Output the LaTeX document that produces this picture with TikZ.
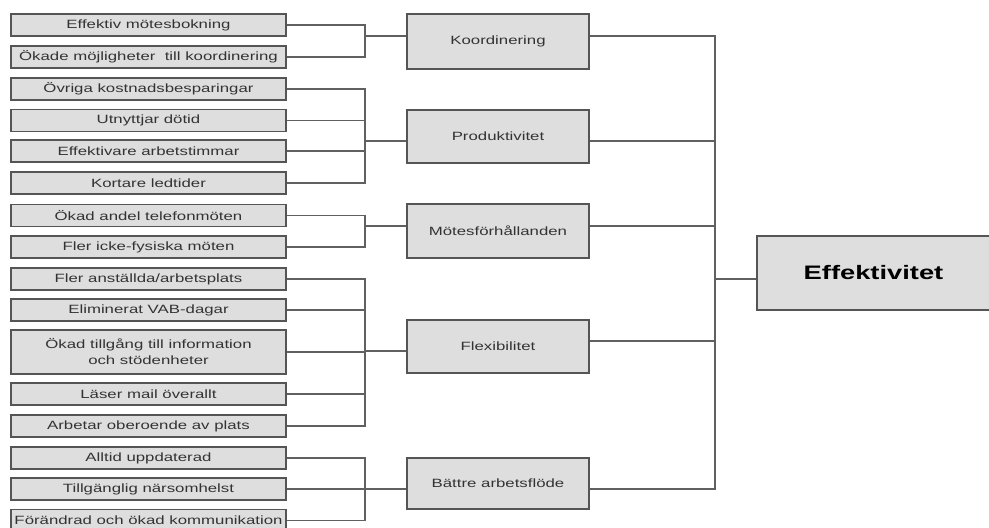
\documentclass[tikz,border=0pt]{standalone}
\usepackage{fontspec}
\setmainfont{Liberation Sans}[FakeStretch=1.4]
\usetikzlibrary{calc}
\definecolor{boxfill}{HTML}{DEDEDE}
\definecolor{boxline}{HTML}{555555}
\definecolor{linecol}{HTML}{606060}
\definecolor{txt}{HTML}{333333}
\tikzset{
  leaf/.style={draw=boxline, fill=boxfill, line width=1.4pt, minimum width=275pt,
    minimum height=22pt, inner sep=0pt, text=txt, font=\fontsize{12}{16}\selectfont, align=center},
  midbox/.style={leaf, minimum width=182pt},
  topbox/.style={leaf, minimum width=233pt, minimum height=74pt, text=black,
    font=\bfseries\fontsize{19.5}{22}\selectfont},
  link/.style={draw=linecol, line width=1.1pt}
}
\begin{document}
\begin{tikzpicture}[x=1pt,y=-1pt]
\useasboundingbox (0,0) rectangle (989,528);
% leaves
\node[leaf] (b1) at (148.5,25) {Effektiv mötesbokning};
\node[leaf] (b2) at (148.5,57) {Ökade möjligheter\ \ till koordinering};
\node[leaf] (b3) at (148.5,89) {Övriga kostnadsbesparingar};
\node[leaf] (b4) at (148.5,120.5) {Utnyttjar dötid};
\node[leaf] (b5) at (148.5,151) {Effektivare arbetstimmar};
\node[leaf] (b6) at (148.5,183) {Kortare ledtider};
\node[leaf] (b7) at (148.5,215.5) {Ökad andel telefonmöten};
\node[leaf] (b8) at (148.5,247) {Fler icke-fysiska möten};
\node[leaf] (b9) at (148.5,279) {Fler anställda/arbetsplats};
\node[leaf] (b10) at (148.5,310) {Eliminerat VAB-dagar};
\node[leaf, minimum height=44pt] (b11) at (148.5,352) {Ökad tillgång till information\\och stödenheter};
\node[leaf] (b12) at (148.5,394) {Läser mail överallt};
\node[leaf] (b13) at (148.5,426) {Arbetar oberoende av plats};
\node[leaf] (b14) at (148.5,458) {Alltid uppdaterad};
\node[leaf] (b15) at (148.5,489) {Tillgänglig närsomhelst};
\node[leaf] (b16) at (148.5,520.5) {Förändrad och ökad kommunikation};
% middle
\node[midbox, minimum height=55pt] (koord) at (498,41.5) {Koordinering};
\node[midbox, minimum height=53pt] (prod) at (498,136.5) {Produktivitet};
\node[midbox, minimum height=54pt] (mote) at (498,231) {Mötesförhållanden};
\node[midbox, minimum height=53pt] (flex) at (498,346.5) {Flexibilitet};
\node[midbox, minimum height=51pt] (batt) at (498,483.5) {Bättre arbetsflöde};
% top
\node[topbox] (eff) at (873.5,273) {Effektivitet};
% junctions
\coordinate (j1) at (365,36);
\coordinate (j2) at (365,141);
\coordinate (j3) at (365,226);
\coordinate (j4) at (365,351);
\coordinate (j5) at (365,489);
\foreach \b in {b1,b2} \draw[link] (\b.east) -| (j1);
\foreach \b in {b3,b4,b5,b6} \draw[link] (\b.east) -| (j2);
\foreach \b in {b7,b8} \draw[link] (\b.east) -| (j3);
\foreach \b in {b9,b10,b11,b12,b13} \draw[link] (\b.east) -| (j4);
\foreach \b in {b14,b15,b16} \draw[link] (\b.east) -| (j5);
\draw[link] (j1) -- (j1 -| koord.west);
\draw[link] (j2) -- (j2 -| prod.west);
\draw[link] (j3) -- (j3 -| mote.west);
\draw[link] (j4) -- (j4 -| flex.west);
\draw[link] (j5) -- (j5 -| batt.west);
% right bus
\coordinate (r1) at (715,36);
\coordinate (r2) at (715,141);
\coordinate (r3) at (715,226);
\coordinate (r4) at (715,341);
\coordinate (r5) at (715,489);
\coordinate (re) at (715,279);
\draw[link] (r1 -| koord.east) -- (r1) -- (r5) -- (r5 -| batt.east);
\draw[link] (r2 -| prod.east) -- (r2);
\draw[link] (r3 -| mote.east) -- (r3);
\draw[link] (r4 -| flex.east) -- (r4);
\draw[link] (re) -- (re -| eff.west);
\end{tikzpicture}
\end{document}
